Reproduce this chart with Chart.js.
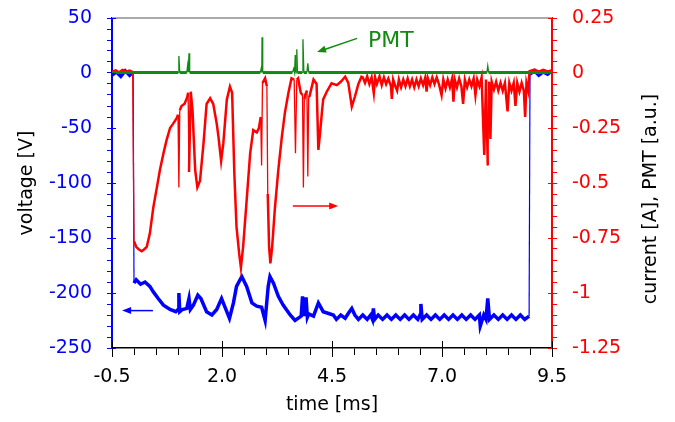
<!DOCTYPE html>
<html>
<head>
<meta charset="utf-8">
<script src="https://cdn.jsdelivr.net/npm/chart.js@4"></script>
<style>
  html, body { margin: 0; padding: 0; background: #fff; }
</style>
</head>
<body>
<canvas id="c" width="675" height="422"></canvas>
<script>
// labelled ticks
const xMajorTicks = [-0.5, 2.0, 4.5, 7.0, 9.5];
const voltMajorTicks = [50, 0, -50, -100, -150, -200, -250];
const currMajorTicks = [0.25, 0, -0.25, -0.5, -0.75, -1, -1.25];

// voltage [V] vs time [ms]
const voltTime = [
  -0.5, -0.4, -0.3, -0.2, -0.1, -0.02, 0.0, 0.05, 0.15, 0.25,
  0.36, 0.44, 0.55, 0.67, 0.82, 0.95, 1.0, 1.02, 1.04, 1.1,
  1.2, 1.25, 1.28, 1.35, 1.45, 1.52, 1.65, 1.77, 1.88, 1.99,
  2.07, 2.17, 2.26, 2.33, 2.45, 2.56, 2.68, 2.79, 2.9, 2.98,
  3.05, 3.09, 3.17, 3.28, 3.39, 3.55, 3.66, 3.8, 3.83, 3.86,
  3.91, 3.94, 3.97, 4.08, 4.19, 4.3,
  4.53, 4.6, 4.7, 4.8, 4.88, 4.95, 5.02, 5.1, 5.2, 5.3,
  5.38, 5.42, 5.44, 5.47, 5.55, 5.65, 5.75, 5.85, 5.95, 6.05,
  6.15, 6.25, 6.35, 6.45, 6.5, 6.52, 6.55, 6.65, 6.75, 6.85,
  6.95, 7.05, 7.15, 7.25, 7.35, 7.45, 7.55, 7.65, 7.75, 7.85,
  7.87, 7.95, 8.0, 8.04, 8.08, 8.18, 8.28, 8.38, 8.48, 8.58,
  8.68, 8.78, 8.88, 8.98, 9.0, 9.1, 9.2, 9.3, 9.4, 9.5
];
const voltValues = [
  -2, 1, -3, 2, -2, 1, -191, -188, -192, -190,
  -194, -199, -205, -211, -215, -217, -215, -200, -217, -215,
  -214, -205, -215, -211, -202, -205, -217, -220, -215, -205,
  -213, -223, -209, -194, -185, -194, -209, -212, -213, -225,
  -194, -185, -191, -203, -211, -220, -225, -221, -203, -221,
  -204, -222, -219, -221, -209, -217,
  -220, -224, -220, -223, -218, -214, -220, -224, -220, -224,
  -220, -224, -214, -224, -220, -224, -220, -224, -220, -224,
  -220, -224, -220, -224, -220, -210, -224, -220, -224, -220,
  -224, -220, -224, -220, -224, -220, -224, -220, -224, -220,
  -230, -220, -224, -205, -224, -220, -224, -220, -224, -220,
  -224, -220, -224, -221, -1, 2, -2, 1, -1, 2
];

// current [A] vs time [ms]
const currTime = [
  -0.5, -0.42, -0.34, -0.26, -0.18, -0.1, -0.03, 0.0, 0.05, 0.1,
  0.175, 0.24, 0.29, 0.36, 0.44, 0.52, 0.59, 0.67, 0.74, 0.82,
  0.89, 0.97, 1.0, 1.02, 1.04, 1.08, 1.15, 1.21, 1.23, 1.25,
  1.29, 1.33, 1.39, 1.44, 1.5, 1.58, 1.65, 1.73, 1.8, 1.88,
  1.92, 1.98, 2.03, 2.11, 2.18, 2.23, 2.28, 2.33, 2.39, 2.43,
  2.48, 2.56, 2.64, 2.71, 2.79, 2.84, 2.88, 2.9, 2.92, 2.98,
  3.02, 3.04, 3.07, 3.1, 3.14, 3.2, 3.28, 3.36, 3.43, 3.51,
  3.58, 3.64, 3.67, 3.7, 3.73, 3.79, 3.83, 3.85, 3.87, 3.89,
  3.93, 3.95, 3.97, 3.99, 4.08, 4.15, 4.19, 4.23, 4.27, 4.3,
  4.38, 4.49, 4.61, 4.7, 4.8, 4.87, 4.95, 5.02, 5.1, 5.17,
  5.2, 5.25, 5.3, 5.35, 5.4, 5.45, 5.48, 5.52, 5.58, 5.63,
  5.68, 5.73, 5.78, 5.84, 5.86, 5.89, 5.94, 5.98, 6.02, 6.07,
  6.12, 6.17, 6.22, 6.27, 6.32, 6.37, 6.42, 6.47, 6.52, 6.57,
  6.62, 6.65, 6.68, 6.73, 6.78, 6.83, 6.88, 6.93, 6.99, 7.03,
  7.08, 7.13, 7.18, 7.23, 7.26, 7.29, 7.34, 7.39, 7.44, 7.48,
  7.52, 7.57, 7.62, 7.67, 7.72, 7.76, 7.8, 7.85, 7.9, 7.96,
  8.0, 8.04, 8.07, 8.1, 8.13, 8.18, 8.23, 8.28, 8.33, 8.38,
  8.43, 8.49, 8.53, 8.58, 8.63, 8.67, 8.71, 8.76, 8.81, 8.86,
  8.89, 8.92, 8.96, 8.99, 9.1, 9.2, 9.3, 9.4, 9.5
];
const currValues = [
  0.005, 0.012, 0.003, 0.014, 0.006, 0.011, 0.004, -0.765, -0.79, -0.8,
  -0.81, -0.8, -0.79, -0.73, -0.61, -0.52, -0.44, -0.365, -0.305, -0.25,
  -0.23, -0.205, -0.19, -0.52, -0.17, -0.15, -0.14, -0.11, -0.09, -0.45,
  -0.085, -0.17, -0.44, -0.52, -0.49, -0.32, -0.14, -0.115, -0.14, -0.23,
  -0.29, -0.4, -0.32, -0.12, -0.062, -0.09, -0.455, -0.7, -0.82, -0.885,
  -0.79, -0.58, -0.365, -0.26, -0.27, -0.25, -0.2, -0.42, -0.046, -0.024,
  -0.06, -0.55, -0.79, -0.865, -0.79, -0.62, -0.44, -0.29, -0.18, -0.09,
  -0.024, -0.03, -0.365, -0.03, -0.024, -0.09, -0.1, -0.52, -0.12, -0.1,
  -0.08, -0.47, -0.11, -0.105, -0.03, -0.05, -0.35, -0.27, -0.18, -0.12,
  -0.085, -0.047, -0.055, -0.04, -0.017, -0.045, -0.153, -0.108, -0.05, -0.017,
  -0.02, -0.045, -0.015, -0.05, -0.02, -0.092, -0.02, -0.05, -0.015, -0.055,
  -0.02, -0.05, -0.025, -0.06, -0.118, -0.03, -0.06, -0.08, -0.03, -0.065,
  -0.03, -0.06, -0.025, -0.06, -0.03, -0.065, -0.03, -0.06, -0.025, -0.055,
  -0.02, -0.085, -0.025, -0.055, -0.02, -0.05, -0.02, -0.05, -0.1, -0.03,
  -0.07, -0.03, -0.065, -0.025, -0.13, -0.03, -0.065, -0.025, -0.06, -0.14,
  -0.03, -0.065, -0.03, -0.06, -0.025, -0.1, -0.03, -0.06, -0.02, -0.373,
  -0.03, -0.42, -0.04, -0.3, -0.04, -0.075, -0.04, -0.08, -0.045, -0.08,
  -0.045, -0.175, -0.045, -0.08, -0.045, -0.15, -0.045, -0.085, -0.045, -0.08,
  -0.2, -0.045, -0.08, 0.008, 0.015, 0.006, 0.014, 0.007, 0.012
];

// PMT [a.u.], plotted against the current axis
const pmtTime = [
  -0.5, 1.0, 1.02, 1.04, 1.2, 1.22, 1.235, 1.25, 1.265, 2.87,
  2.89, 2.905, 2.91, 2.925, 3.6, 3.63, 3.65, 3.665, 3.675, 3.69,
  3.7, 3.715, 3.82, 3.84, 3.86, 3.93, 3.95, 3.97, 8.02, 8.04,
  8.06, 9.5
];
const pmtValues = [
  0.002, 0.002, 0.077, 0.002, 0.002, 0.036, 0.004, 0.09, 0.002, 0.002,
  0.02, 0.002, 0.162, 0.002, 0.002, 0.02, 0.002, 0.082, 0.002, 0.002,
  0.108, 0.002, 0.002, 0.153, 0.002, 0.002, 0.044, 0.002, 0.002, 0.032,
  0.002, 0.002
];

const FONT = 'DejaVu Sans';
const BLUE = '#0000ff', RED = '#ff0000', GREEN = '#118a11';

const toPts = (ts, vs) => ts.map((t, i) => ({ x: t, y: vs[i] }));
const near = (v, list) => list.some(m => Math.abs(m - v) < 1e-6);
// very steep segments (switch-on/off edges, narrow spikes) are thin in the original
const slope = c => Math.abs(c.p1.parsed.y - c.p0.parsed.y) / Math.max(c.p1.parsed.x - c.p0.parsed.x, 1e-6);

function arrow(ctx, x1, y1, x2, y2, color) {
  const a = Math.atan2(y2 - y1, x2 - x1), len = 9, w = 3.5;
  ctx.strokeStyle = color; ctx.fillStyle = color; ctx.lineWidth = 1.5;
  ctx.beginPath(); ctx.moveTo(x1, y1);
  ctx.lineTo(x2 - Math.cos(a) * len * 0.8, y2 - Math.sin(a) * len * 0.8); ctx.stroke();
  ctx.beginPath();
  ctx.moveTo(x2, y2);
  ctx.lineTo(x2 - Math.cos(a) * len - Math.sin(a) * w, y2 - Math.sin(a) * len + Math.cos(a) * w);
  ctx.lineTo(x2 - Math.cos(a) * len + Math.sin(a) * w, y2 - Math.sin(a) * len - Math.cos(a) * w);
  ctx.closePath(); ctx.fill();
}

const decor = {
  id: 'decor',
  afterDraw(chart) {
    const { ctx, chartArea: a, scales } = chart;
    const x = scales.x, y = scales.y, yR = scales.yR;
    ctx.save();
    // grey top frame
    ctx.strokeStyle = '#aaaaaa'; ctx.lineWidth = 2;
    ctx.beginPath(); ctx.moveTo(a.left, a.top); ctx.lineTo(a.right, a.top); ctx.stroke();

    // major ticks also poke into the plot
    ctx.lineWidth = 1;
    ctx.strokeStyle = BLUE;
    voltMajorTicks.forEach(v => { const p = Math.round(y.getPixelForValue(v)) + 0.5;
      ctx.beginPath(); ctx.moveTo(a.left, p); ctx.lineTo(a.left + 4, p); ctx.stroke(); });
    ctx.strokeStyle = RED;
    currMajorTicks.forEach(v => { const p = Math.round(yR.getPixelForValue(v)) + 0.5;
      ctx.beginPath(); ctx.moveTo(a.right, p); ctx.lineTo(a.right - 4, p); ctx.stroke(); });
    ctx.strokeStyle = '#000';
    xMajorTicks.forEach(v => { const p = Math.round(x.getPixelForValue(v)) + 0.5;
      ctx.beginPath(); ctx.moveTo(p, a.bottom + 9); ctx.lineTo(p, a.bottom - 7); ctx.stroke(); });

    // arrows telling which axis each trace belongs to
    arrow(ctx, x.getPixelForValue(0.43), y.getPixelForValue(-216), x.getPixelForValue(-0.27), y.getPixelForValue(-216), BLUE);
    arrow(ctx, x.getPixelForValue(3.61), y.getPixelForValue(-121), x.getPixelForValue(4.64), y.getPixelForValue(-121), RED);
    arrow(ctx, x.getPixelForValue(5.07), y.getPixelForValue(31.5), x.getPixelForValue(4.16), y.getPixelForValue(19), GREEN);

    ctx.fillStyle = GREEN;
    ctx.font = '22px "' + FONT + '"';
    ctx.textAlign = 'left'; ctx.textBaseline = 'middle';
    ctx.fillText('PMT', x.getPixelForValue(5.32), y.getPixelForValue(29));

    // right axis title reads bottom-to-top like the left one
    ctx.fillStyle = '#000';
    ctx.font = '19px "' + FONT + '"';
    ctx.textAlign = 'center';
    ctx.translate(651, 199); ctx.rotate(-Math.PI / 2);
    ctx.fillText('current [A], PMT [a.u.]', 0, 0);
    ctx.restore();
  }
};

new Chart(document.getElementById('c'), {
  type: 'line',
  data: {
    datasets: [
      { label: 'PMT', data: toPts(pmtTime, pmtValues), yAxisID: 'yR',
        borderColor: GREEN, borderWidth: 3, pointRadius: 0, tension: 0,
        segment: { borderWidth: c => (c.p0.parsed.y > 0.01 || c.p1.parsed.y > 0.01) ? 1.3 : 3 } },
      { label: 'current', data: toPts(currTime, currValues), yAxisID: 'yR',
        borderColor: RED, borderWidth: 2.5, pointRadius: 0, tension: 0,
        segment: { borderWidth: c => slope(c) > 10 ? 1.3 : 2.5 } },
      { label: 'voltage', data: toPts(voltTime, voltValues), yAxisID: 'y',
        borderColor: BLUE, borderWidth: 3.5, pointRadius: 0, tension: 0,
        segment: { borderWidth: c => slope(c) > 1500 ? 1.2 : 3.5 } }
    ]
  },
  plugins: [decor],
  options: {
    responsive: false,
    animation: false,
    events: [],
    layout: { padding: { top: 18, left: 0, right: 0, bottom: 0 } },
    plugins: { legend: { display: false }, tooltip: { enabled: false } },
    scales: {
      x: {
        type: 'linear', position: 'bottom', min: -0.5, max: 9.5,
        border: { color: '#000', width: 1.5 },
        grid: { drawOnChartArea: false, tickLength: 7, tickColor: '#000' },
        ticks: { stepSize: 0.5, autoSkip: false, maxRotation: 0, padding: 11, color: '#000',
          font: { family: FONT, size: 19 },
          callback: v => near(v, xMajorTicks) ? v.toFixed(1) : '' },
        title: { display: true, text: 'time [ms]', color: '#000',
          font: { family: FONT, size: 19 }, padding: { top: 0, bottom: 6 } },
        afterFit: s => { s.height = 74; s.paddingLeft = 0; s.paddingRight = 0; }
      },
      y: {
        type: 'linear', position: 'left', min: -250, max: 50,
        border: { color: BLUE, width: 2 },
        grid: { drawOnChartArea: false, tickLength: 5, tickColor: BLUE },
        ticks: { stepSize: 10, autoSkip: false, padding: 15, color: BLUE,
          font: { family: FONT, size: 19 },
          callback: v => near(v, voltMajorTicks) ? String(v) : '' },
        title: { display: true, text: 'voltage [V]', color: '#000',
          font: { family: FONT, size: 19 }, padding: { top: 16, bottom: 0 } },
        afterFit: s => { s.width = 112; s.paddingTop = 0; s.paddingBottom = 0; }
      },
      yR: {
        type: 'linear', position: 'right', min: -1.25, max: 0.25,
        border: { color: RED, width: 2 },
        grid: { drawOnChartArea: false, tickLength: 5, tickColor: RED },
        ticks: { stepSize: 0.05, autoSkip: false, padding: 15, color: RED,
          font: { family: FONT, size: 19 },
          callback: v => near(v, currMajorTicks) ? String(v) : '' },
        afterFit: s => { s.width = 123; s.paddingTop = 0; s.paddingBottom = 0; }
      }
    }
  }
});
</script>
</body>
</html>
